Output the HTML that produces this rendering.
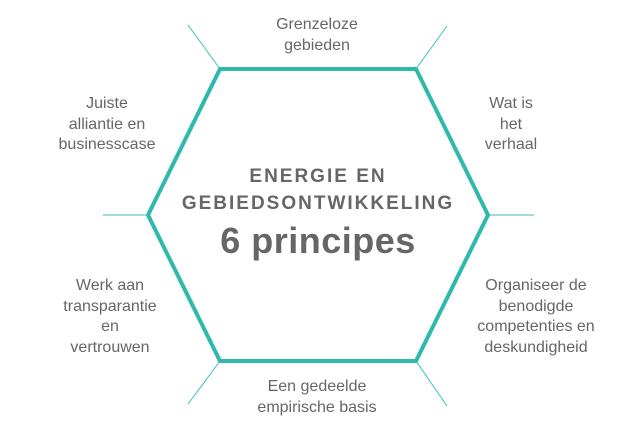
<!DOCTYPE html>
<html><head><meta charset="utf-8"><style>
html,body{margin:0;padding:0;background:#fff;}
body{width:639px;height:433px;position:relative;overflow:hidden;font-family:"Liberation Sans",sans-serif;color:#666;}
.t{position:absolute;text-align:center;font-size:16px;line-height:20.5px;white-space:nowrap;transform:translateX(-50%);}
.c{position:absolute;left:318px;transform:translateX(-50%);text-align:center;font-weight:bold;white-space:nowrap;}
</style></head><body>
<svg width="639" height="433" style="position:absolute;left:0;top:0">
<g stroke="#3dbfb3" stroke-width="1" fill="none">
<line x1="220" y1="69" x2="188" y2="25"/>
<line x1="416" y1="69" x2="447" y2="26"/>
<line x1="103" y1="215" x2="148" y2="215"/>
<line x1="488" y1="215" x2="534" y2="215"/>
<line x1="220" y1="361" x2="188" y2="404"/>
<line x1="416" y1="361" x2="447" y2="406"/>
</g>
<polygon points="220,69 416,69 488,215 416,361 220,361 148,215" fill="none" stroke="#2fb8ac" stroke-width="4"/>
</svg>
<div class="t" style="left:317px;top:15px">Grenzeloze<br>gebieden</div>
<div class="t" style="left:107px;top:94px">Juiste<br>alliantie en<br>businesscase</div>
<div class="t" style="left:511px;top:94px">Wat is<br>het<br>verhaal</div>
<div class="t" style="left:110px;top:276px">Werk aan<br>transparantie<br>en<br>vertrouwen</div>
<div class="t" style="left:536px;top:276px">Organiseer de<br>benodigde<br>competenties en<br>deskundigheid</div>
<div class="t" style="left:317px;top:377px">Een gedeelde<br>empirische basis</div>
<div class="c" style="top:166px;font-size:19px;letter-spacing:2px">ENERGIE EN</div>
<div class="c" style="top:193px;font-size:19px;letter-spacing:2px">GEBIEDSONTWIKKELING</div>
<div class="c" style="top:220px;font-size:36px;letter-spacing:0.5px">6 principes</div>
</body></html>
